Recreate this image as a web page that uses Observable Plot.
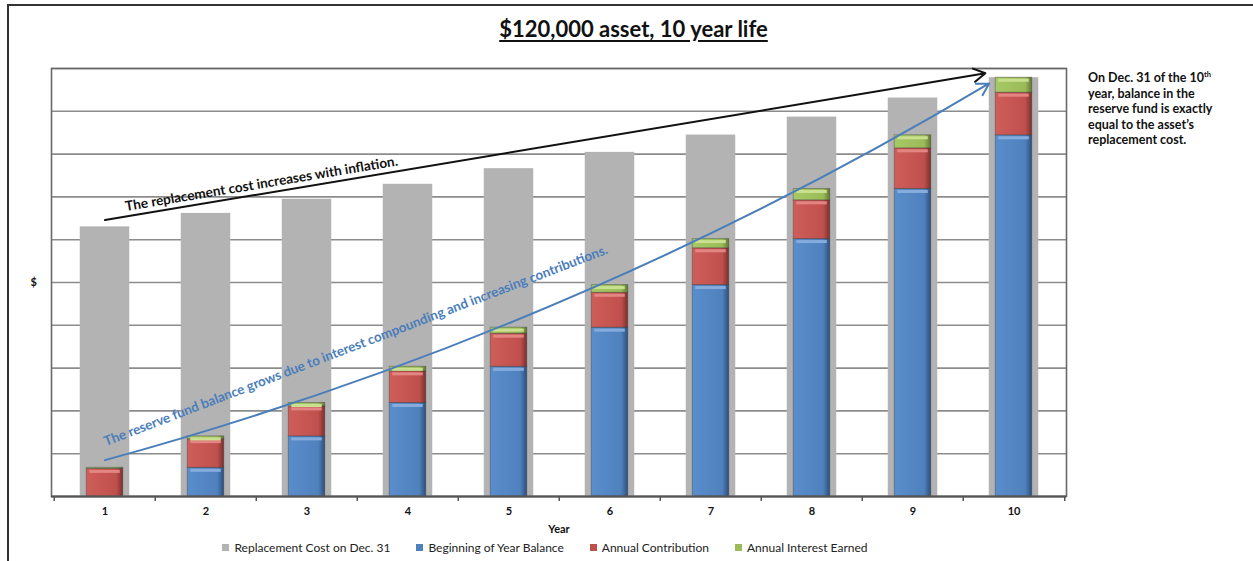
<!DOCTYPE html>
<html><head><meta charset="utf-8">
<script src="https://cdn.jsdelivr.net/npm/d3@7"></script>
<script src="https://cdn.jsdelivr.net/npm/@observablehq/plot@0.6"></script>
<style>
body{margin:0;background:#fff;}
#wrap{position:relative;width:1253px;height:561px;overflow:hidden;font-family:Lato,"Open Sans",sans-serif;color:#111;}
#outer{position:absolute;left:7px;top:4px;right:-10px;bottom:-10px;border-left:2px solid #333;border-top:2px solid #333;}
#title{position:absolute;left:0;width:1267px;top:15px;text-align:center;font-weight:bold;font-size:22px;text-decoration:underline;text-underline-offset:3px;}
#chart{position:absolute;left:0;top:48px;}
#note{position:absolute;left:1088px;top:70px;width:165px;font-weight:bold;font-size:12.5px;line-height:15.5px;}
#note sup{font-size:7.5px;line-height:0;}
#legend{position:absolute;left:0;width:1090px;top:540px;display:flex;justify-content:center;gap:26px;font-size:12px;color:#222;}
#legend span.sw{display:inline-block;width:7px;height:7px;margin-right:5px;vertical-align:1px;}
</style></head>
<body>
<div id="wrap">
  <div id="outer"></div>
  <div id="title">$120,000 asset, 10 year life</div>
  <div id="chart"></div>
  <div id="note">On Dec. 31 of the 10<sup>th</sup><br>year, balance in the<br>reserve fund is exactly<br>equal to the asset’s<br>replacement cost.</div>
  <div id="legend"></div>
</div>
<script>
// ---- data ----
const years = [1, 2, 3, 4, 5, 6, 7, 8, 9, 10];
const replacementCost = [126000, 132300, 138900, 145900, 153200, 160800, 168900, 177300, 186200, 195700];
const beginBalance = [0, 13400, 28100, 43700, 60600, 78900, 98800, 120300, 143700, 168800];
const annualContribution = [12900, 13400, 14000, 14800, 15500, 16300, 17200, 18100, 19000, 19900];
const annualInterest = [500, 1300, 1600, 2100, 2800, 3600, 4300, 5300, 6100, 7000];
const seriesNames = ["Replacement Cost on Dec. 31", "Beginning of Year Balance", "Annual Contribution", "Annual Interest Earned"];
const seriesColors = ["#b3b3b3", "#4f81bd", "#c0504d", "#9bbb59"];
const yTicks = [0, 20000, 40000, 60000, 80000, 100000, 120000, 140000, 160000, 180000, 200000];
// annotations (data coordinates: year, dollars)
const inflationArrow = [{x1: 1, y1: 129200, x2: 10, y2: 200000}];
const fundArrow = [{x1: 1, y1: 17000, x2: 10, y2: 200000}];
const inflationText = "The replacement cost increases with inflation.";
const fundText = "The reserve fund balance grows due to interest compounding and increasing contributions.";

// ---- tables ----
const costRows = years.map((yr, i) => ({year: yr, value: replacementCost[i]}));
const stackRows = [];
years.forEach((yr, i) => {
  stackRows.push({year: yr, series: seriesNames[1], value: beginBalance[i]});
  stackRows.push({year: yr, series: seriesNames[2], value: annualContribution[i]});
  stackRows.push({year: yr, series: seriesNames[3], value: annualInterest[i]});
});
const highlight = {[seriesNames[1]]: "#86acdd", [seriesNames[2]]: "#e38683", [seriesNames[3]]: "#c8e08f"};

const bw = (1253 - 51 - 187) / years.length;
const grayInset = (bw - 50) / 2;
const barInset = (bw - 37) / 2;

const chart = Plot.plot({
  width: 1253, height: 488,
  marginLeft: 51, marginRight: 187, marginTop: 20, marginBottom: 40,
  style: {fontFamily: "Lato, 'Open Sans', sans-serif", fontSize: "11px", fontWeight: "bold", background: "none", overflow: "visible", color: "#111"},
  x: {type: "band", domain: years, padding: 0, label: null, tickSize: 0, tickPadding: 11},
  y: {domain: [0, 200000], axis: null},
  color: {domain: seriesNames.slice(1), range: ["url(#gBlue)", "url(#gRed)", "url(#gGreen)"]},
  marks: [
    Plot.gridY(yTicks, {stroke: "#8c8c8c", strokeOpacity: 1, strokeWidth: 1.6}),
    Plot.barY(costRows, {x: "year", y: "value", fill: seriesColors[0], insetLeft: grayInset, insetRight: grayInset}),
    Plot.barY(stackRows, Plot.stackY({x: "year", y: "value", z: "series", fill: "series", order: null,
      insetLeft: barInset, insetRight: barInset, stroke: "#2a2a2a", strokeOpacity: 0.35, strokeWidth: 1})),
    Plot.tickY(stackRows.filter(d => d.value > 1000), Plot.stackY2({x: "year", y: "value", z: "series", order: null,
      stroke: d => highlight[d.series], strokeWidth: 3, dy: 2.5,
      insetLeft: barInset + 3, insetRight: barInset + 3})),
    Plot.frame({stroke: "#6a6a6a", strokeWidth: 1.6}),
    Plot.ruleY([0], {stroke: "#555", strokeWidth: 2}),
    Plot.ruleX(years, {x: d => d, y1: 0, y2: 0, insetBottom: -5, dx: -bw / 2, stroke: "#555", strokeWidth: 1.5}),
    Plot.ruleX([years[years.length - 1]], {x: d => d, y1: 0, y2: 0, insetBottom: -5, dx: bw / 2, stroke: "#555", strokeWidth: 1.5}),
    Plot.axisX({tickSize: 0, tickPadding: 11, label: null, fontWeight: "bold"}),
    Plot.text(["Year"], {frameAnchor: "bottom", text: d => d, dy: 33, lineAnchor: "middle", fontSize: 11}),
    Plot.text(["$"], {frameAnchor: "left", text: d => d, dx: -21, lineAnchor: "middle", fontSize: 11}),
    Plot.arrow(inflationArrow, {x1: "x1", y1: "y1", x2: "x2", y2: "y2", stroke: "#111", strokeWidth: 2, insetEnd: 29, headLength: 10}),
    Plot.arrow(fundArrow, {x1: "x1", y1: "y1", x2: "x2", y2: "y2", stroke: "#4a7ebb", strokeWidth: 2, insetEnd: 29, headLength: 10, bend: -8}),
    Plot.text(inflationArrow, {x: "x1", y: "y1", text: () => inflationText, textAnchor: "start", lineAnchor: "bottom", dx: 21, dy: -9, rotate: -9.5, fontSize: 13.6, fill: "#111"}),
    Plot.text(fundArrow, {x: "x1", y: "y1", text: () => fundText, textAnchor: "start", lineAnchor: "bottom", dx: 1, dy: -14, rotate: -21, fontSize: 13.4, fill: "#4a7ebb"})
  ]
});

// gradients for the bevelled bars
const defs = document.createElementNS("http://www.w3.org/2000/svg", "defs");
defs.innerHTML = `
<linearGradient id="gBlue" x1="0" x2="1" y1="0" y2="0"><stop offset="0" stop-color="#5a8dcc"/><stop offset="0.82" stop-color="#4f81bd"/><stop offset="1" stop-color="#2c4f7e"/></linearGradient>
<linearGradient id="gRed" x1="0" x2="1" y1="0" y2="0"><stop offset="0" stop-color="#cf5e5a"/><stop offset="0.82" stop-color="#c0504d"/><stop offset="1" stop-color="#7c2f2d"/></linearGradient>
<linearGradient id="gGreen" x1="0" x2="1" y1="0" y2="0"><stop offset="0" stop-color="#a6c965"/><stop offset="0.82" stop-color="#9bbb59"/><stop offset="1" stop-color="#60782f"/></linearGradient>`;
chart.insertBefore(defs, chart.firstChild);
document.getElementById("chart").appendChild(chart);

// legend
const legend = document.getElementById("legend");
seriesNames.forEach((name, i) => {
  const item = document.createElement("div");
  item.innerHTML = `<span class="sw" style="background:${seriesColors[i]}"></span>${name}`;
  legend.appendChild(item);
});
</script>
</body></html>
